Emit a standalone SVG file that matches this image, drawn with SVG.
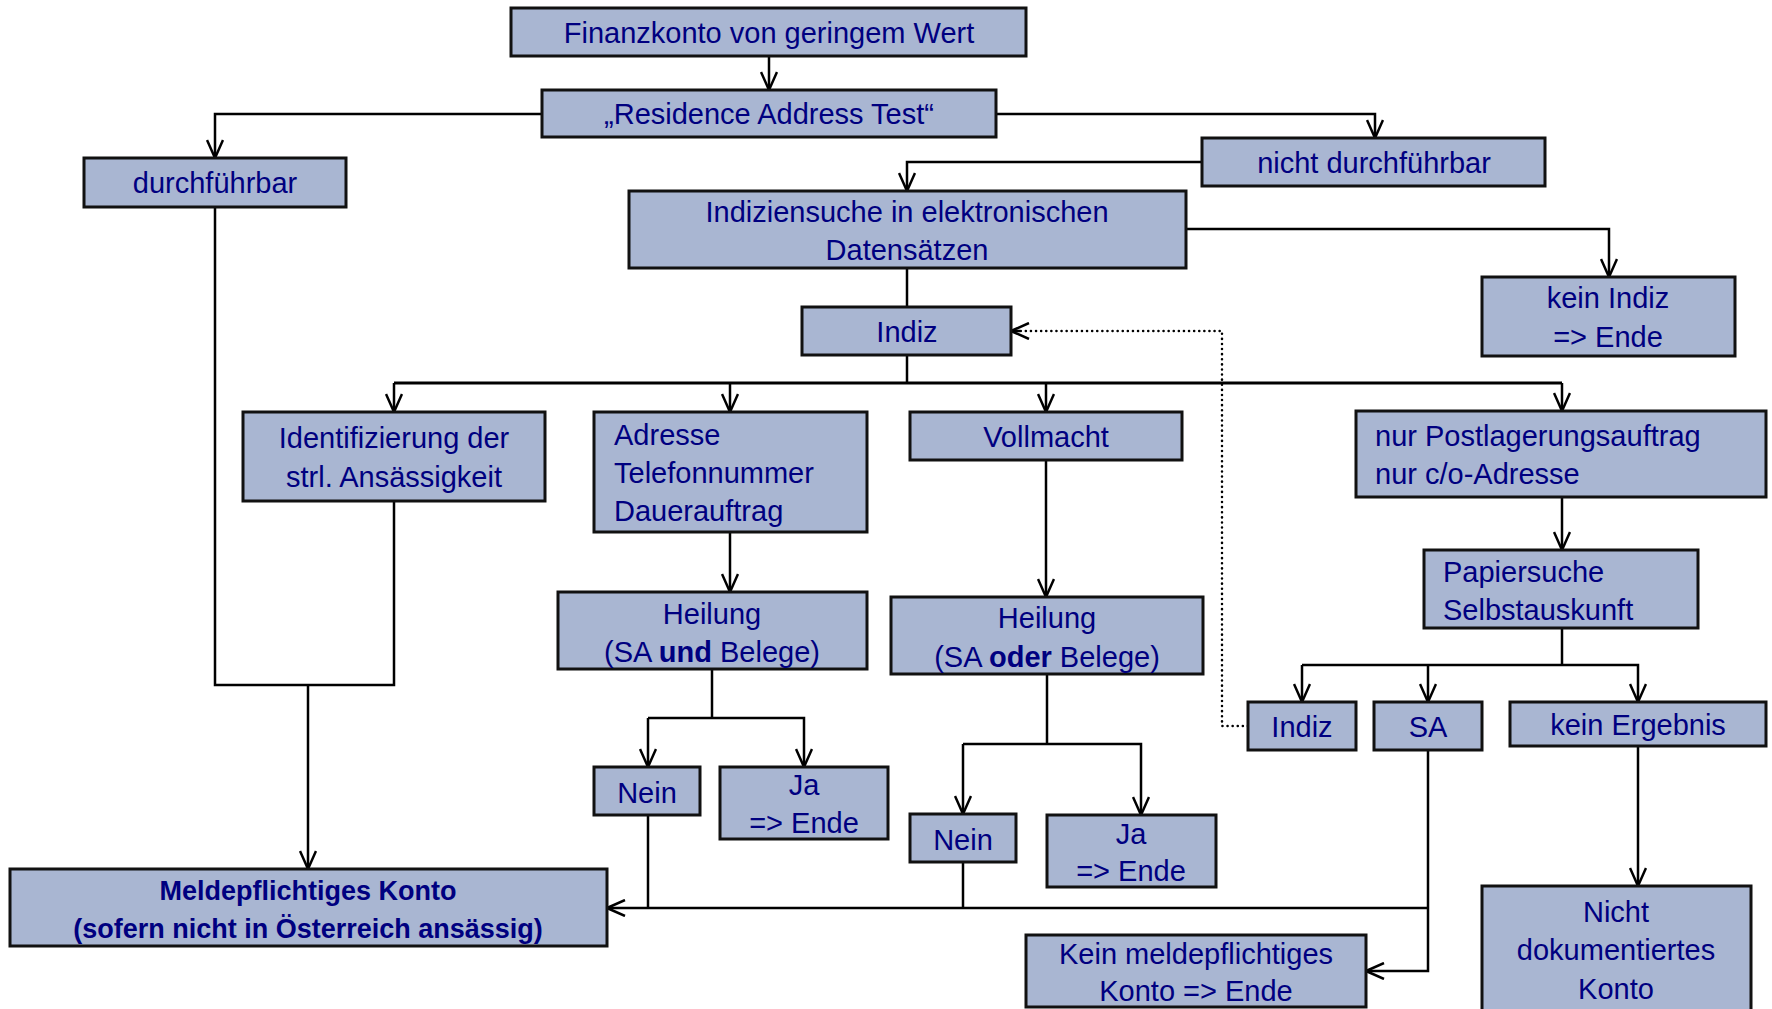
<svg xmlns="http://www.w3.org/2000/svg" width="1772" height="1009" viewBox="0 0 1772 1009">
<style>
.box{fill:#A9B6D2;stroke:#111;stroke-width:3}
.t{font-family:"Liberation Sans",Arial,sans-serif;font-size:29px;fill:#000080;text-anchor:middle}
.l{text-anchor:start}
.b{font-weight:bold;font-size:27px}
.c{fill:none;stroke:#000;stroke-width:2.5}
.a{marker-end:url(#arr)}
.d{fill:none;stroke:#000;stroke-width:2.5;stroke-dasharray:0.1 5;stroke-linecap:round}
</style>
<defs>
<marker id="arr" viewBox="0 0 20 18" refX="19" refY="9" markerWidth="20" markerHeight="18" markerUnits="userSpaceOnUse" orient="auto">
<path d="M1,1 L19,9 L1,17" fill="none" stroke="#000" stroke-width="2.5"/>
</marker>
</defs>
<g id="connectors">
<path class="c a" d="M769,56 V90"/>
<path class="c a" d="M542,114 H215 V158"/>
<path class="c a" d="M996,114 H1375 V138"/>
<path class="c a" d="M1202,162 H907 V191"/>
<path class="c a" d="M1186,229 H1609 V277"/>
<path class="c" d="M907,268 V307"/>
<path class="c" d="M907,355 V383"/>
<path class="c" style="stroke-width:3" d="M394,383 H1562"/>
<path class="c a" d="M394,383 V412"/>
<path class="c a" d="M730,383 V412"/>
<path class="c a" d="M1046,383 V412"/>
<path class="c a" d="M1562,383 V411"/>
<path class="c" d="M215,207 V685 H394 V501"/>
<path class="c a" d="M308,685 V869"/>
<path class="c a" d="M730,532 V592"/>
<path class="c" d="M712,669 V718"/>
<path class="c a" d="M648,718 V767"/>
<path class="c a" d="M648,718 H804 V767"/>
<path class="c a" d="M1046,460 V597"/>
<path class="c" d="M1047,674 V744"/>
<path class="c a" d="M963,744 V814"/>
<path class="c a" d="M963,744 H1141 V815"/>
<path class="c" d="M648,815 V908"/>
<path class="c" d="M963,862 V908"/>
<path class="c a" d="M1428,908 H607"/>
<path class="c a" d="M1428,749 V971 H1366"/>
<path class="c a" d="M1562,497 V550"/>
<path class="c" d="M1562,628 V665"/>
<path class="c a" d="M1302,665 V702"/>
<path class="c a" d="M1302,665 H1638 V702"/>
<path class="c a" d="M1428,665 V702"/>
<path class="c a" d="M1638,746 V886"/>
<path class="d" d="M1248,726 H1222 V331 H1020"/>
<path class="c a" d="M1020,331 H1011"/>
</g>
<g id="n-finanzkonto"><rect class="box" x="511" y="8" width="515" height="48"/><text class="t" x="769" y="43">Finanzkonto von geringem Wert</text></g>
<g id="n-residence"><rect class="box" x="542" y="90" width="454" height="47"/><text class="t" x="769" y="124">„Residence Address Test“</text></g>
<g id="n-durchfuehrbar"><rect class="box" x="84" y="158" width="262" height="49"/><text class="t" x="215" y="193">durchführbar</text></g>
<g id="n-nicht-durchfuehrbar"><rect class="box" x="1202" y="138" width="343" height="48"/><text class="t" x="1374" y="173">nicht durchführbar</text></g>
<g id="n-indiziensuche"><rect class="box" x="629" y="191" width="557" height="77"/><text class="t" x="907" y="222">Indiziensuche in elektronischen</text><text class="t" x="907" y="260">Datensätzen</text></g>
<g id="n-kein-indiz"><rect class="box" x="1482" y="277" width="253" height="79"/><text class="t" x="1608" y="308">kein Indiz</text><text class="t" x="1608" y="347">=&gt; Ende</text></g>
<g id="n-indiz"><rect class="box" x="802" y="307" width="209" height="48"/><text class="t" x="907" y="342">Indiz</text></g>
<g id="n-identifizierung"><rect class="box" x="243" y="412" width="302" height="89"/><text class="t" x="394" y="448">Identifizierung der</text><text class="t" x="394" y="487">strl. Ansässigkeit</text></g>
<g id="n-adresse"><rect class="box" x="594" y="412" width="273" height="120"/><text class="t l" x="614" y="445">Adresse</text><text class="t l" x="614" y="483">Telefonnummer</text><text class="t l" x="614" y="521">Dauerauftrag</text></g>
<g id="n-vollmacht"><rect class="box" x="910" y="412" width="272" height="48"/><text class="t" x="1046" y="447">Vollmacht</text></g>
<g id="n-postlagerung"><rect class="box" x="1356" y="411" width="410" height="86"/><text class="t l" x="1375" y="446">nur Postlagerungsauftrag</text><text class="t l" x="1375" y="484">nur c/o-Adresse</text></g>
<g id="n-heilung-und"><rect class="box" x="558" y="592" width="309" height="77"/><text class="t" x="712" y="624">Heilung</text><text class="t" x="712" y="662">(SA <tspan font-weight="bold">und</tspan> Belege)</text></g>
<g id="n-heilung-oder"><rect class="box" x="891" y="597" width="312" height="77"/><text class="t" x="1047" y="628">Heilung</text><text class="t" x="1047" y="667">(SA <tspan font-weight="bold">oder</tspan> Belege)</text></g>
<g id="n-papiersuche"><rect class="box" x="1424" y="550" width="274" height="78"/><text class="t l" x="1443" y="582">Papiersuche</text><text class="t l" x="1443" y="620">Selbstauskunft</text></g>
<g id="n-indiz2"><rect class="box" x="1248" y="702" width="108" height="48"/><text class="t" x="1302" y="737">Indiz</text></g>
<g id="n-sa"><rect class="box" x="1374" y="702" width="108" height="48"/><text class="t" x="1428" y="737">SA</text></g>
<g id="n-kein-ergebnis"><rect class="box" x="1510" y="702" width="256" height="44"/><text class="t" x="1638" y="735">kein Ergebnis</text></g>
<g id="n-nein1"><rect class="box" x="594" y="767" width="106" height="48"/><text class="t" x="647" y="803">Nein</text></g>
<g id="n-ja1"><rect class="box" x="720" y="767" width="168" height="72"/><text class="t" x="804" y="795">Ja</text><text class="t" x="804" y="833">=&gt; Ende</text></g>
<g id="n-nein2"><rect class="box" x="910" y="814" width="106" height="48"/><text class="t" x="963" y="850">Nein</text></g>
<g id="n-ja2"><rect class="box" x="1047" y="815" width="169" height="72"/><text class="t" x="1131" y="844">Ja</text><text class="t" x="1131" y="881">=&gt; Ende</text></g>
<g id="n-meldepflichtig"><rect class="box" x="10" y="869" width="597" height="77"/><text class="t b" x="308" y="900">Meldepflichtiges Konto</text><text class="t b" x="308" y="938">(sofern nicht in Österreich ansässig)</text></g>
<g id="n-kein-meldepflichtig"><rect class="box" x="1026" y="935" width="340" height="72"/><text class="t" x="1196" y="964">Kein meldepflichtiges</text><text class="t" x="1196" y="1001">Konto =&gt; Ende</text></g>
<g id="n-nicht-dokumentiert"><rect class="box" x="1482" y="886" width="269" height="135"/><text class="t" x="1616" y="922">Nicht</text><text class="t" x="1616" y="960">dokumentiertes</text><text class="t" x="1616" y="999">Konto</text></g>
</svg>
